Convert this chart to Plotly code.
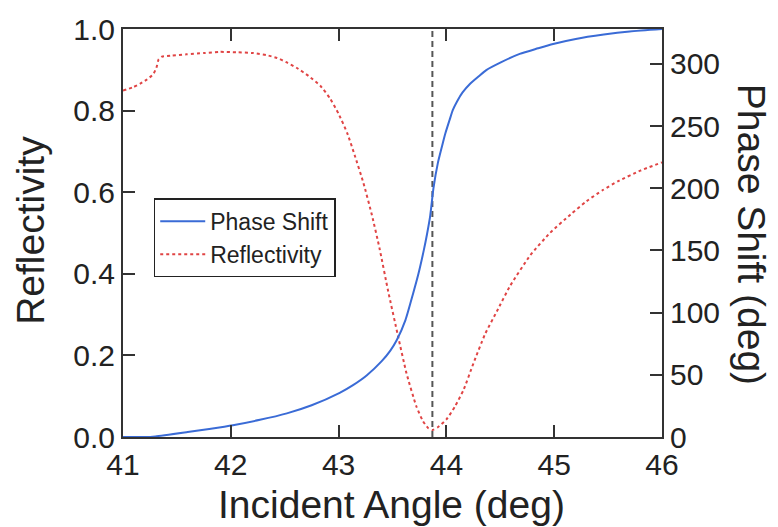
import plotly.graph_objects as go

# Reflectivity vs incident angle
refl_angle = [41.00, 41.10, 41.16, 41.22, 41.28, 41.31, 41.33, 41.36, 41.45, 41.59,
              41.75, 41.90, 42.05, 42.21, 42.33, 42.43, 42.52, 42.61, 42.72, 42.83,
              42.92, 43.00, 43.08, 43.15, 43.23, 43.31, 43.38, 43.46, 43.55, 43.63,
              43.72, 43.78, 43.83, 43.87, 43.92, 44.00, 44.08, 44.16, 44.25, 44.36,
              44.47, 44.59, 44.78, 44.96, 45.15, 45.30, 45.45, 45.60, 45.80, 46.00]
reflectivity = [0.849, 0.858, 0.866, 0.876, 0.889, 0.905, 0.925, 0.932, 0.935, 0.938,
                0.941, 0.944, 0.943, 0.941, 0.936, 0.929, 0.918, 0.905, 0.885, 0.861,
                0.830, 0.792, 0.745, 0.690, 0.623, 0.543, 0.462, 0.357, 0.249, 0.156,
                0.076, 0.040, 0.022, 0.017, 0.024, 0.043, 0.075, 0.116, 0.180, 0.253,
                0.309, 0.370, 0.446, 0.500, 0.545, 0.578, 0.605, 0.628, 0.653, 0.673]

# Phase shift (deg) vs incident angle
phase_angle = [41.00, 41.20, 41.30, 41.60, 41.80, 42.02, 42.27, 42.52, 42.75, 43.01,
               43.13, 43.26, 43.40, 43.48, 43.54, 43.62, 43.69, 43.74, 43.79, 43.82,
               43.85, 43.88, 43.92, 43.96, 43.99, 44.03, 44.06, 44.10, 44.15, 44.22,
               44.30, 44.37, 44.50, 44.68, 44.85, 44.99, 45.20, 45.46, 45.70, 46.00]
phase_shift = [0.0, 0.0, 0.5, 4.0, 6.5, 9.5, 13.8, 19.0, 25.5, 35.5,
               41.5, 49.5, 61.0, 69.5, 78.0, 94.0, 115.0, 131.0, 150.0, 163.0,
               178.0, 200.0, 220.0, 234.0, 244.0, 255.0, 263.0, 270.0, 277.0, 284.0,
               290.0, 295.0, 301.0, 308.0, 312.5, 316.0, 320.0, 323.5, 326.0, 328.0]

resonance_angle = 43.87

x_ticks = [41, 42, 43, 44, 45, 46]
refl_ticks = [0.0, 0.2, 0.4, 0.6, 0.8, 1.0]
phase_ticks = [0, 50, 100, 150, 200, 250, 300]

FONT = "Liberation Sans, Arial, Helvetica, sans-serif"
AXIS = "#333333"
TEXT = "#222222"
BLUE = "#3a6bd6"
RED = "#e04444"

fig = go.Figure()
fig.add_trace(go.Scatter(x=phase_angle, y=phase_shift, mode="lines", name="Phase Shift",
                         yaxis="y2",
                         line=dict(color=BLUE, width=2, shape="spline", smoothing=0.6)))
fig.add_trace(go.Scatter(x=refl_angle, y=reflectivity, mode="lines", name="Reflectivity",
                         yaxis="y",
                         line=dict(color=RED, width=2, dash="3px,3px", shape="spline", smoothing=0.5)))

# resonance angle marker
fig.add_shape(type="line", xref="x", yref="paper", x0=resonance_angle, x1=resonance_angle,
              y0=0, y1=1, line=dict(color="#555555", width=2, dash="6px,4px"), layer="below")

axis_common = dict(showgrid=False, zeroline=False, showline=True, linecolor=AXIS, linewidth=2,
                   ticks="inside", ticklen=12, tickwidth=2, tickcolor=AXIS,
                   tickfont=dict(family=FONT, size=30, color=TEXT))

fig.update_layout(
    width=778, height=527,
    margin=dict(l=123, r=116, t=24, b=90),
    paper_bgcolor="white", plot_bgcolor="white",
    font=dict(family=FONT, color=TEXT),
    xaxis=dict(range=[41, 46], tickvals=x_ticks, mirror="ticks", **axis_common),
    yaxis=dict(range=[0, 1], tickvals=refl_ticks, tickformat=".1f", **axis_common),
    yaxis2=dict(range=[0, 328], tickvals=phase_ticks, overlaying="y", side="right", **axis_common),
    legend=dict(x=0.057, y=0.585, xanchor="left", yanchor="top",
                bordercolor="#222222", borderwidth=1.5, bgcolor="white", itemwidth=45,
                font=dict(family=FONT, size=23, color=TEXT), tracegroupgap=0),
    showlegend=True,
    annotations=[
        dict(text="Incident Angle (deg)", xref="paper", yref="paper", x=0.499, y=-0.165,
             xanchor="center", yanchor="middle", showarrow=False,
             font=dict(family=FONT, size=39, color=TEXT)),
        dict(text="Reflectivity", xref="paper", yref="paper", x=-0.172, y=0.506,
             xanchor="center", yanchor="middle", textangle=-90, showarrow=False,
             font=dict(family=FONT, size=39, color=TEXT)),
        dict(text="Phase Shift (deg)", xref="paper", yref="paper", x=1.166, y=0.497,
             xanchor="center", yanchor="middle", textangle=90, showarrow=False,
             font=dict(family=FONT, size=39, color=TEXT)),
    ],
)

fig.write_html("out.html")
